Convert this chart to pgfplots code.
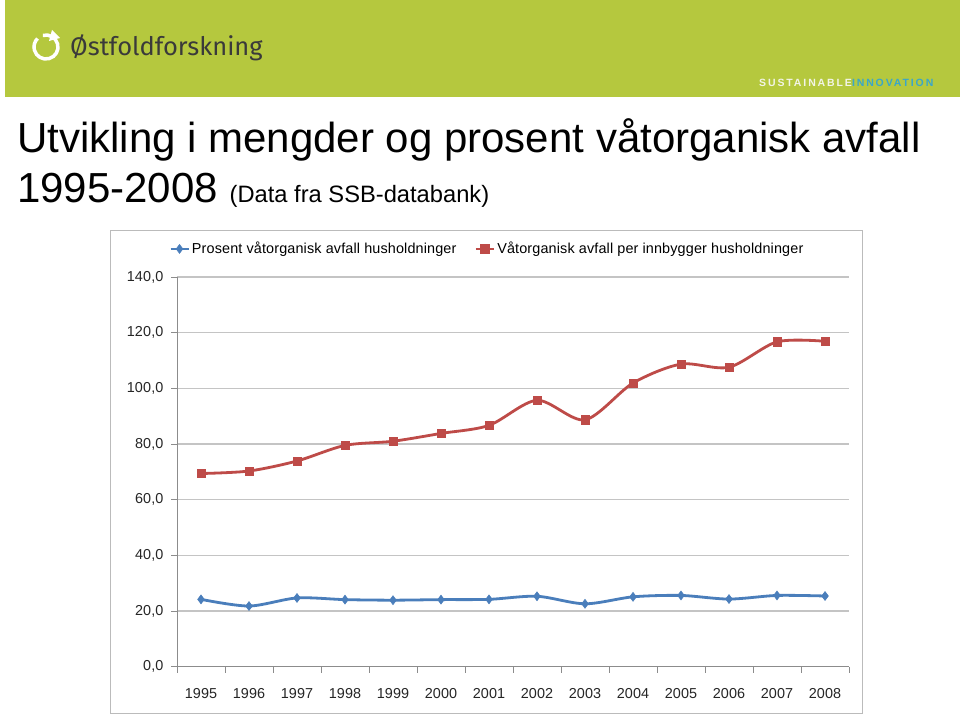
\documentclass[border=0pt]{standalone}
\usepackage{pgfplots}
\pgfplotsset{compat=1.18}
\usepackage{fontspec}
\setmainfont{Liberation Sans}
\newfontfamily\logofont{Fira Sans}
\newfontfamily\spacedfont[LetterSpace=18]{Liberation Sans}
\newfontfamily\legfont[LetterSpace=1]{Liberation Sans}
\definecolor{banner}{HTML}{B5C83E}
\definecolor{sblue}{HTML}{4A7EBB}
\definecolor{sred}{HTML}{BE4B48}
\definecolor{gridgray}{HTML}{C4C4C4}
\definecolor{axgray}{HTML}{8C8C8C}
\definecolor{framegray}{HTML}{BBBBBB}
\definecolor{innoblue}{HTML}{3AA6C9}
\definecolor{sustain}{HTML}{F2F4E6}
\definecolor{logotext}{HTML}{3A3A3A}
\begin{document}
\begin{tikzpicture}[x=1pt,y=1pt]
\path[use as bounding box, fill=white] (0,0) rectangle (960,716);
% banner
\fill[banner] (5,619) rectangle (960,716);
\draw[white, line width=3.5pt] (46,669) ++(105:12) arc[start angle=105, end angle=-225, radius=12];
\fill[white] (52,686) -- (60,678) -- (49,675) -- cycle;
\node[anchor=base west, inner sep=0, text=logotext, font=\logofont\fontsize{25.5}{30}\selectfont] at (70,660) {Østfoldforskning};
\node[anchor=base west, inner sep=0, font=\spacedfont\bfseries\fontsize{10.5}{11}\selectfont] at (759,629) {\textcolor{sustain}{SUSTAINABLE}\textcolor{innoblue}{INNOVATION}};
% title
\node[anchor=base west, inner sep=0, font=\fontsize{42}{48}\selectfont] at (17,563) {Utvikling i mengder og prosent våtorganisk avfall};
\node[anchor=base west, inner sep=0] at (17,513) {\fontsize{42}{48}\selectfont 1995-2008 \fontsize{23.7}{26}\selectfont(Data fra SSB-databank)};
% chart frame
\draw[framegray, line width=1pt] (110,3) rectangle (862,485);
\begin{axis}[
  at={(177pt,49.3pt)}, anchor=south west, scale only axis,
  width=672pt, height=389.7pt,
  xmin=-0.5, xmax=13.5, ymin=0, ymax=140,
  xtick={0,...,13},
  xticklabels={1995,1996,1997,1998,1999,2000,2001,2002,2003,2004,2005,2006,2007,2008},
  major x tick style={draw=none},
  minor xtick={-0.5,0.5,...,13.5},
  ytick={0,20,...,140},
  ymajorgrids, grid style={gridgray, line width=1.2pt},
  axis x line*=bottom, axis y line*=left,
  axis line style={axgray, line width=1pt},
  tick align=outside, major tick length=6pt, minor tick length=6pt,
  every tick/.style={axgray, line width=0.8pt},
  tick label style={font=\legfont\fontsize{14.4}{16}\selectfont, text=black!85},
  yticklabel style={/pgf/number format/.cd, fixed, fixed zerofill, precision=1, use comma, assume math mode=true, /tikz/.cd, xshift=-4pt},
  xticklabel style={yshift=-12pt},
  legend style={font=\legfont\fontsize{14.4}{16}\selectfont, draw=none, fill=none, legend columns=2,
    /tikz/every even column/.append style={column sep=16pt},
    at={(axis description cs:-0.012,1.072)}, anchor=west, inner sep=0pt},
  legend cell align=left,
  legend image code/.code={\draw[#1, mark repeat=2, mark phase=2] plot coordinates {(0pt,0pt) (9pt,0pt) (18pt,0pt)};},
  clip=false,
]
\addplot[sblue, line width=2.8pt, smooth, mark=diamond*, mark size=4.5pt, mark options={solid, fill=sblue, draw=sblue, line width=0.5pt}] coordinates {
(0,24.2) (1,21.8) (2,24.7) (3,24.1) (4,23.9) (5,24.1) (6,24.2) (7,25.3) (8,22.6) (9,25.1) (10,25.6) (11,24.3) (12,25.6) (13,25.4)};
\addlegendentry{Prosent våtorganisk avfall husholdninger}
\addplot[sred, line width=2.8pt, smooth, mark=square*, mark size=4.2pt, mark options={solid, fill=sred, draw=sred, line width=0.5pt}] coordinates {
(0,69.4) (1,70.3) (2,73.9) (3,79.5) (4,81.0) (5,83.8) (6,86.7) (7,95.7) (8,88.7) (9,101.9) (10,108.7) (11,107.6) (12,116.7) (13,116.9)};
\addlegendentry{Våtorganisk avfall per innbygger husholdninger}
\end{axis}
\end{tikzpicture}
\end{document}
